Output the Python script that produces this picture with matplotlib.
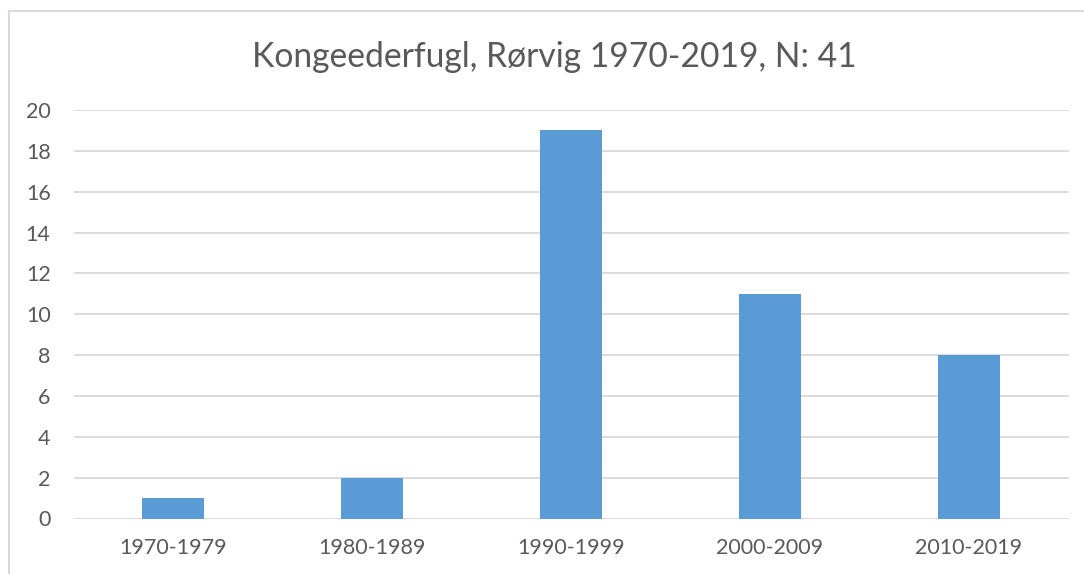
import matplotlib
matplotlib.use("Agg")
import matplotlib.pyplot as plt
from matplotlib.lines import Line2D

categories = ["1970-1979", "1980-1989", "1990-1999", "2000-2009", "2010-2019"]
values = [1, 2, 19, 11, 8]
yticks = [0, 2, 4, 6, 8, 10, 12, 14, 16, 18, 20]
title = "Kongeederfugl, Rørvig 1970-2019, N: 41"

W, H = 1084, 574
plt.rcParams['font.family'] = ['Lato', 'DejaVu Sans']
fig = plt.figure(figsize=(W / 100, H / 100), dpi=100)

# chart border (left and top only visible)
fig.add_artist(Line2D([9 / W, 9 / W], [0, 1 - 11 / H], color="#d9d9d9", lw=1.5, transform=fig.transFigure))
fig.add_artist(Line2D([9 / W, 1], [1 - 11 / H, 1 - 11 / H], color="#d9d9d9", lw=1.5, transform=fig.transFigure))

left, right = 73.5, 1068.5
top, bottom = 110, 518.5
ax = fig.add_axes([left / W, 1 - bottom / H, (right - left) / W, (bottom - top) / H])

x = list(range(len(categories)))
ax.bar(x, values, width=0.31, color="#5b9bd5", zorder=3)
ax.set_xlim(-0.5, len(categories) - 0.5)
ax.set_ylim(0, 20)
ax.set_yticks(yticks)
ax.set_yticklabels([str(t) for t in yticks])
ax.set_xticks(x)
ax.set_xticklabels(categories)
ax.grid(axis="y", color="#d9d9d9", lw=1.3, zorder=0)
for s in ax.spines.values():
    s.set_visible(False)
ax.tick_params(axis="both", length=0, colors="#595959", labelsize=15.5)
ax.tick_params(axis="y", pad=16.5)
ax.tick_params(axis="x", pad=14)

fig.text(554 / W, 1 - 57 / H, title, ha="center", va="center", fontsize=24.2, color="#595959")

fig.savefig("out.png", dpi=100, facecolor="white")
